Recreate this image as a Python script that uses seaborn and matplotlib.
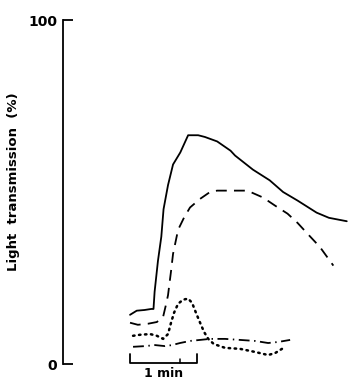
import numpy as np
import pandas as pd
import matplotlib
matplotlib.use('Agg')
import matplotlib.pyplot as plt
import seaborn as sns

# time (s) and light transmission (%)
solid_t = [0, 6, 13, 19, 21, 22, 25, 28, 30, 34, 38.5, 45, 52, 61, 67, 78, 90, 94, 110, 125, 137, 150, 167, 178, 194]
solid_y = [14.3, 15.5, 15.7, 16, 16, 21, 30, 37, 45, 52, 58, 61.5, 66.5, 66.5, 66, 64.7, 62, 60.6, 56.5, 53.4, 50, 47.5, 44, 42.5, 41.5]

dashed_t = [0, 7, 16, 24, 29.6, 32, 34, 36.7, 38.5, 43, 48.4, 53.7, 62.7, 71.6, 78, 90, 105, 119, 130, 141, 150, 158.5, 170, 182]
dashed_y = [12, 11.4, 11.7, 12.2, 13.7, 17, 20, 27, 32, 39, 42.6, 45.5, 48, 50, 50.4, 50.4, 50.4, 48.4, 46, 43.7, 41, 38, 34, 28.6]

dotted_t = [2.7, 9, 18, 24, 29.6, 34, 36.7, 39.4, 43, 47.5, 52, 55.5, 59, 62.7, 66.3, 70, 75, 85, 98.5, 112, 123.6, 130, 136]
dotted_y = [8.2, 8.5, 8.7, 8.2, 7.3, 8.7, 12, 14.9, 17.5, 18.7, 19, 17.8, 14.9, 12, 9.3, 7.3, 5.8, 4.7, 4.4, 3.5, 2.6, 3.2, 4.4]

dashdot_t = [2.7, 13.4, 22.4, 31.3, 37.6, 44.8, 53.7, 62.7, 71.6, 85, 98.5, 112, 123.6, 132.5, 143.3]
dashdot_y = [5, 5.2, 5.5, 5.2, 5.5, 6.1, 6.7, 7, 7.3, 7.3, 7, 6.7, 6.1, 6.4, 7]

sns.set_style("white")
plt.rcParams['font.family'] = ['DejaVu Sans']

fig = plt.figure(figsize=(3.49, 3.80), dpi=100)
ax = fig.add_axes([63 / 349, 16 / 380, 286 / 349, 344 / 380])

traces = [
    (solid_t, solid_y, None),
    (dashed_t, dashed_y, (6, 4)),
    (dotted_t, dotted_y, (0.6, 1.8)),
    (dashdot_t, dashdot_y, (6, 2.5, 0.8, 2.5)),
]
for t, y, dash in traces:
    df = pd.DataFrame({'t': t, 'y': y})
    sns.lineplot(data=df, x='t', y='y', ax=ax, color='black', lw=1.3,
                 sort=False, estimator=None)
    l = ax.lines[-1]
    if dash is not None:
        l.set_dashes(dash)
        if dash[0] < 1:
            l.set_linewidth(1.8)
            l.set_dash_capstyle('round')

# 1 min scale bar
ax.plot([0, 0, 60, 60], [3.0, 0.3, 0.3, 3.0], color='black', lw=1.3, clip_on=False)
ax.plot([44.8, 44.8], [0.3, 1.5], color='black', lw=1.1, clip_on=False)
ax.text(30, -2.8, '1 min', ha='center', va='center', fontsize=9, fontweight='bold',
        color='black', clip_on=False)

ax.set_xlim(-60, 196)
ax.set_ylim(0, 100)
for s in ['top', 'right', 'bottom']:
    ax.spines[s].set_visible(False)
ax.spines['left'].set_linewidth(1.3)
ax.spines['left'].set_color('black')
ax.set_xticks([])
ax.set_yticks([0, 100])
ax.set_yticklabels(['0', '100'])
ax.tick_params(axis='y', left=True, direction='in', length=7, width=1.3, pad=4,
               labelsize=10, colors='black')
for lab in ax.get_yticklabels():
    lab.set_fontweight('bold')
ax.set_xlabel('')
ax.set_ylabel('Light  transmission  (%)', fontsize=9.5, fontweight='bold', color='black')
ax.yaxis.set_label_coords(-0.15, 0.53)

fig.savefig('out.png', dpi=100)
